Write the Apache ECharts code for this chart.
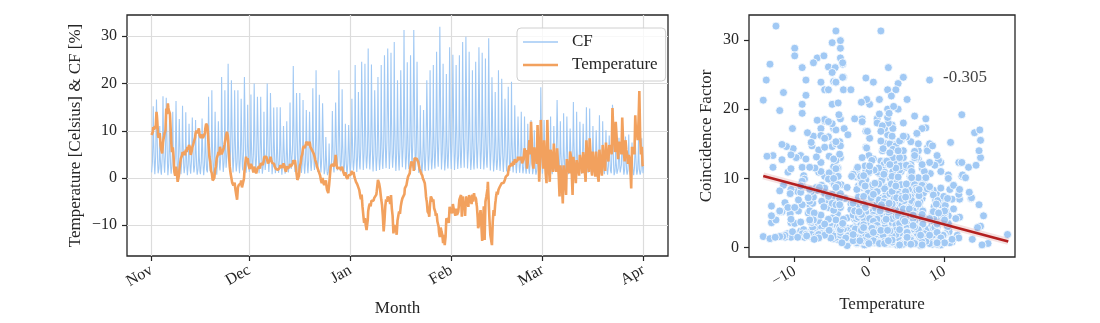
<!DOCTYPE html>
<html>
<head>
<meta charset="utf-8">
<script src="https://cdn.jsdelivr.net/npm/echarts@6.0.0/dist/echarts.min.js"></script>
<style>
  html, body { margin: 0; padding: 0; background: #ffffff; }
  #chart { width: 1100px; height: 323px; }
</style>
</head>
<body>
<div id="chart"></div>
<script>
// Three-hourly samples (00, 03, 06, 09, 12, 15, 18, 21 h), 1 Nov 00:00 through 1 Apr 00:00.
// Coincidence factor, percent. One day per row.
const cf = [
  // Nov
  1.2,1.0,3.3,7.3,15.2,8.4,5.2,2.3,
  0.8,0.7,4.6,10.3,16.6,11.6,7.0,3.0,
  1.0,0.7,2.0,4.2,11.0,5.0,3.1,1.3,
  0.7,0.7,4.3,9.5,17.3,10.7,5.2,2.4,
  1.1,1.0,4.8,10.5,17.0,11.9,7.1,3.1,
  0.6,0.4,2.9,6.2,13.0,7.2,4.4,2.0,
  0.9,0.6,2.5,5.3,14.0,6.3,3.9,1.7,
  1.3,1.3,4.1,9.0,16.3,10.1,4.9,2.3,
  0.5,0.4,3.5,7.8,12.5,8.8,5.3,2.3,
  0.8,0.6,3.4,7.3,15.3,8.4,5.2,2.3,
  1.0,0.7,2.5,5.3,13.9,6.3,3.9,1.7,
  0.6,0.6,2.9,6.3,11.5,7.1,3.5,1.6,
  0.9,0.8,3.6,7.9,12.8,9.0,5.4,2.3,
  1.2,1.0,2.7,5.9,12.3,6.8,4.2,1.8,
  0.7,0.4,1.9,4.0,10.5,4.7,2.9,1.3,
  0.8,0.8,3.2,6.9,12.6,7.8,3.8,1.8,
  0.6,0.5,2.8,6.2,10.0,7.0,4.2,1.8,
  1.4,1.2,3.8,8.3,17.2,9.5,5.8,2.6,
  1.5,1.2,3.3,7.1,18.6,8.4,5.2,2.2,
  0.9,0.9,3.5,7.7,14.0,8.7,4.2,2.0,
  0.7,0.6,3.4,7.4,12.0,8.4,5.0,2.2,
  1.6,1.4,4.7,10.3,21.4,11.8,7.3,3.2,
  1.3,1.0,3.3,7.1,18.6,8.4,5.2,2.2,
  1.8,1.8,6.1,13.3,24.2,15.0,7.3,3.4,
  1.5,1.4,5.8,12.8,20.7,14.5,8.7,3.7,
  1.2,1.0,4.1,8.9,18.6,10.2,6.3,2.8,
  1.4,1.1,3.3,7.1,18.6,8.4,5.2,2.2,
  1.0,1.0,4.2,9.2,16.8,10.4,5.0,2.4,
  1.6,1.5,6.0,13.3,21.4,15.0,9.0,3.9,
  1.1,0.9,3.4,7.4,15.5,8.5,5.3,2.3,
  // Dec
  1.3,1.0,3.2,6.7,17.7,8.0,5.0,2.1,
  1.5,1.5,5.0,11.0,20.0,12.4,6.0,2.8,
  1.2,1.1,4.8,10.7,17.2,12.0,7.2,3.1,
  1.0,0.8,3.8,8.3,17.2,9.5,5.8,2.6,
  0.9,0.6,2.5,5.3,14.0,6.3,3.9,1.7,
  1.4,1.4,5.0,11.0,20.0,12.4,6.0,2.8,
  1.3,1.2,5.0,11.2,18.0,12.6,7.6,3.2,
  0.8,0.6,3.3,7.2,14.9,8.2,5.1,2.2,
  1.0,0.7,2.7,5.7,15.0,6.8,4.2,1.8,
  1.1,1.1,3.8,8.3,15.0,9.3,4.5,2.1,
  0.7,0.6,3.1,6.8,11.0,7.7,4.6,2.0,
  0.9,0.7,2.6,5.8,12.0,6.6,4.1,1.8,
  1.2,0.9,2.9,6.1,16.0,7.2,4.5,1.9,
  1.7,1.7,5.9,13.0,23.7,14.7,7.1,3.3,
  1.3,1.2,5.0,11.2,18.0,12.6,7.6,3.2,
  1.4,1.2,4.0,8.6,18.0,9.9,6.1,2.7,
  1.1,0.8,3.0,6.3,16.5,7.4,4.6,2.0,
  0.9,0.9,3.6,7.9,14.4,8.9,4.3,2.0,
  1.0,0.9,3.9,8.7,14.0,9.8,5.9,2.5,
  1.5,1.3,4.2,9.1,19.0,10.5,6.5,2.9,
  1.7,1.4,4.1,8.7,22.8,10.3,6.4,2.7,
  1.3,1.3,4.4,9.7,17.6,10.9,5.3,2.5,
  1.2,1.1,4.4,9.8,15.8,11.1,6.6,2.8,
  0.8,0.6,1.9,4.2,8.7,4.8,3.0,1.3,
  0.6,0.3,1.3,2.8,7.3,3.3,2.0,0.9,
  1.0,1.0,3.6,7.8,14.2,8.8,4.3,2.0,
  1.2,1.1,4.5,9.9,16.0,11.2,6.7,2.9,
  1.6,1.4,5.0,10.9,22.8,12.5,7.8,3.4,
  1.4,1.1,3.4,7.1,18.8,8.5,5.3,2.3,
  0.9,0.9,2.9,6.3,11.5,7.1,3.5,1.6,
  0.8,0.7,3.1,6.9,11.2,7.8,4.7,2.0,
  // Jan
  1.0,0.8,3.7,8.1,16.8,9.2,5.7,2.5,
  1.6,1.3,4.3,9.1,23.9,10.8,6.7,2.9,
  1.3,1.3,4.6,10.0,18.2,11.3,5.5,2.5,
  1.8,1.7,6.9,15.3,24.6,17.2,10.3,4.4,
  1.7,1.5,5.3,11.6,24.2,13.3,8.2,3.6,
  2.0,1.7,4.9,10.4,27.4,12.3,7.7,3.3,
  1.8,1.8,6.0,13.2,24.0,14.9,7.2,3.4,
  1.4,1.3,5.2,11.5,18.6,13.0,7.8,3.3,
  1.5,1.3,4.7,10.3,21.4,11.8,7.3,3.2,
  1.7,1.4,4.3,9.1,23.9,10.8,6.7,2.9,
  1.9,1.9,6.5,14.3,26.0,16.1,7.8,3.6,
  2.1,2.0,7.7,17.0,27.4,19.2,11.5,4.9,
  1.9,1.7,5.8,12.7,26.5,14.6,9.0,4.0,
  2.2,1.9,5.2,10.9,28.8,13.0,8.1,3.5,
  1.5,1.5,5.2,11.4,20.7,12.8,6.2,2.9,
  1.6,1.5,6.4,14.1,22.8,16.0,9.6,4.1,
  2.3,2.1,6.9,15.0,31.3,17.2,10.6,4.7,
  1.8,1.5,4.4,9.3,24.5,11.0,6.9,2.9,
  1.9,1.9,6.5,14.3,26.0,16.1,7.8,3.6,
  2.2,2.1,8.8,19.4,31.3,21.9,13.1,5.6,
  1.7,1.5,5.4,11.8,24.6,13.5,8.4,3.7,
  1.1,0.8,2.8,5.9,15.4,6.9,4.3,1.8,
  1.0,1.0,3.6,7.9,14.4,8.9,4.3,2.0,
  1.5,1.4,5.8,12.8,20.7,14.5,8.7,3.7,
  1.6,1.4,5.0,10.9,22.8,12.5,7.8,3.4,
  1.8,1.5,4.3,9.1,23.9,10.8,6.7,2.9,
  2.0,2.0,6.7,14.7,26.7,16.6,8.0,3.7,
  2.4,2.3,9.0,19.8,32.0,22.4,13.4,5.8,
  1.8,1.6,5.3,11.6,24.2,13.3,8.2,3.6,
  1.6,1.3,4.0,8.4,22.0,9.9,6.2,2.6,
  2.0,2.0,6.9,15.2,27.7,17.2,8.3,3.9,
  // Feb
  1.9,1.8,7.3,16.2,26.1,18.3,11.0,4.7,
  1.7,1.5,5.3,11.5,23.9,13.1,8.1,3.6,
  1.9,1.6,4.7,9.9,26.0,11.7,7.3,3.1,
  2.1,2.1,7.2,15.8,28.8,17.9,8.6,4.0,
  2.2,2.1,8.4,18.5,29.9,20.9,12.6,5.4,
  2.0,1.8,5.9,12.8,26.7,14.7,9.1,4.0,
  1.7,1.4,4.1,8.7,22.8,10.3,6.4,2.7,
  1.8,1.8,6.2,13.5,24.6,15.3,7.4,3.4,
  2.0,1.9,7.8,17.2,27.7,19.4,11.6,5.0,
  1.9,1.7,5.8,12.7,26.5,14.6,9.0,4.0,
  1.8,1.5,4.6,9.6,25.3,11.4,7.1,3.0,
  2.2,2.2,7.4,16.3,29.6,18.4,8.9,4.1,
  1.6,1.5,6.0,13.2,21.3,14.9,8.9,3.8,
  1.4,1.2,4.0,8.7,18.2,10.0,6.2,2.7,
  1.7,1.4,4.1,8.7,22.8,10.3,6.4,2.7,
  1.5,1.5,5.3,11.6,21.0,13.0,6.3,2.9,
  1.3,1.2,4.7,10.4,16.8,11.8,7.1,3.0,
  1.4,1.2,4.2,9.3,19.3,10.6,6.6,2.9,
  1.5,1.2,3.7,7.8,20.4,9.2,5.7,2.4,
  1.2,1.2,3.9,8.5,15.4,9.5,4.6,2.2,
  1.0,0.9,3.6,8.1,13.0,9.1,5.5,2.3,
  1.1,0.9,3.1,6.7,14.0,7.7,4.8,2.1,
  1.0,0.7,2.3,4.9,13.0,5.9,3.6,1.6,
  0.9,0.9,2.9,6.3,11.5,7.1,3.5,1.6,
  0.9,0.8,3.4,7.6,12.3,8.6,5.2,2.2,
  0.8,0.6,2.2,4.8,10.1,5.6,3.4,1.5,
  0.7,0.4,1.6,3.4,9.0,4.1,2.5,1.1,
  1.4,1.4,4.8,10.6,19.2,11.9,5.8,2.7,
  // Mar
  0.9,0.8,3.4,7.6,12.3,8.6,5.2,2.2,
  1.0,0.8,2.7,5.9,12.3,6.8,4.2,1.8,
  1.0,0.7,2.3,4.9,13.0,5.9,3.6,1.6,
  0.8,0.8,2.8,6.1,11.0,6.8,3.3,1.5,
  1.2,1.1,4.6,10.2,16.5,11.6,6.9,3.0,
  0.9,0.7,2.6,5.8,12.0,6.6,4.1,1.8,
  1.0,0.7,2.5,5.2,13.7,6.2,3.8,1.6,
  1.0,1.0,3.3,7.2,13.0,8.1,3.9,1.8,
  0.8,0.7,2.9,6.5,10.5,7.4,4.4,1.9,
  1.2,1.0,3.5,7.7,16.1,8.9,5.5,2.4,
  1.1,0.8,2.5,5.3,14.0,6.3,3.9,1.7,
  0.9,0.9,3.0,6.5,11.9,7.4,3.6,1.7,
  0.9,0.8,3.2,7.1,11.5,8.1,4.8,2.1,
  1.1,0.9,3.3,7.2,15.0,8.3,5.1,2.3,
  1.1,0.8,2.6,5.6,14.7,6.6,4.1,1.8,
  0.8,0.8,2.8,6.1,11.0,6.8,3.3,1.5,
  0.8,0.7,2.8,6.3,10.1,7.1,4.2,1.8,
  1.0,0.8,2.9,6.4,13.3,7.3,4.5,2.0,
  0.9,0.6,2.2,4.6,12.0,5.4,3.4,1.4,
  0.8,0.8,2.5,5.6,10.1,6.3,3.0,1.4,
  0.7,0.6,2.5,5.6,9.0,6.3,3.8,1.6,
  1.2,1.0,3.4,7.4,15.5,14.0,5.3,2.3,
  0.6,0.3,1.4,2.9,7.7,3.5,2.2,0.9,
  0.7,0.7,2.1,4.7,8.5,5.3,2.6,1.2,
  0.8,0.7,2.8,6.3,10.1,7.1,4.2,1.8,
  0.7,0.5,1.9,4.2,8.8,4.8,3.0,1.3,
  0.7,0.4,1.7,3.5,9.2,4.1,2.6,1.1,
  0.6,0.6,1.9,4.1,7.5,4.7,2.3,1.1,
  0.6,0.5,2.2,5.0,8.0,5.6,3.4,1.4,
  0.7,0.5,1.8,4.0,8.4,4.6,1.9,1.2,
  0.7,0.4,1.5,3.2,8.4,3.8,2.4,1.0,
  // Apr 1
  2.5
];

// Air temperature, degrees Celsius, same timestamps.
const temperature = [
  // Nov
  9.1,8.9,8.8,9.8,10.8,10.7,10.2,10.6,
  11.0,10.7,10.5,12.3,14.0,13.2,12.0,10.4,
  9.0,8.5,8.2,8.9,9.5,8.4,7.0,6.4,
  5.9,5.5,5.2,6.3,7.5,8.1,8.5,9.0,
  9.5,9.7,10.0,12.4,14.7,14.2,13.5,14.8,
  15.8,15.0,14.4,14.6,14.8,13.6,12.0,10.1,
  8.0,6.6,5.5,6.0,6.5,5.6,4.5,2.8,
  1.3,0.9,0.5,1.5,2.4,1.8,1.0,0.1,
  -0.8,-0.7,-0.5,0.5,1.5,2.3,3.0,3.6,
  4.2,4.1,4.0,4.8,5.5,5.3,5.0,5.3,
  5.6,5.2,4.8,5.4,6.0,5.8,5.5,6.0,
  6.6,6.3,6.0,6.5,7.0,6.8,6.5,5.7,
  4.9,5.0,5.2,5.9,6.5,6.8,7.0,7.3,
  7.7,7.7,7.8,8.6,9.5,9.8,10.0,9.9,
  9.8,9.5,9.2,9.9,10.5,9.8,9.0,8.8,
  8.7,8.5,8.3,8.8,9.2,8.9,8.5,8.4,
  8.4,8.4,8.5,9.5,10.5,11.0,11.5,11.7,
  11.9,11.0,10.0,8.5,7.0,5.8,4.5,4.0,
  3.5,2.5,1.5,1.2,1.0,0.3,-0.5,-0.6,
  -0.8,-0.4,0.0,0.9,1.7,2.1,2.5,3.4,
  4.2,4.3,4.5,5.0,5.5,5.2,4.8,5.7,
  6.6,6.2,5.8,5.4,5.0,5.2,5.5,5.7,
  5.9,6.2,6.5,7.0,7.5,8.0,8.5,9.0,
  9.4,9.8,10.1,9.0,8.0,6.5,5.0,3.7,
  2.4,1.7,1.0,0.5,0.0,-0.5,-1.0,-1.0,
  -1.1,-1.6,-2.0,-1.5,-1.0,-1.8,-2.5,-3.0,
  -3.6,-4.1,-4.6,-3.3,-2.0,-1.7,-1.5,-1.3,
  -1.1,-1.5,-1.8,-1.1,-0.5,-1.2,-2.0,-1.9,
  -1.8,-1.6,-1.5,-0.1,1.3,2.2,3.0,3.8,
  4.5,4.0,3.5,3.9,4.2,3.5,2.8,2.6,
  // Dec
  2.4,1.9,1.5,2.3,3.0,2.8,2.5,2.2,
  2.0,1.6,1.2,1.8,2.4,2.1,1.8,1.6,
  1.5,1.0,0.6,1.3,2.0,1.9,1.7,2.1,
  2.5,2.2,2.0,2.6,3.1,3.3,3.5,3.2,
  3.0,2.8,2.7,3.4,4.0,4.5,4.9,4.9,
  4.9,4.7,4.5,4.2,3.8,3.4,3.1,3.3,
  3.5,3.3,3.2,3.9,4.5,4.2,3.8,3.5,
  3.2,3.0,2.8,3.2,3.5,3.0,2.5,2.4,
  2.4,2.0,1.7,2.0,2.2,2.0,1.7,1.8,
  2.0,1.8,1.6,2.2,2.7,2.9,3.0,2.7,
  2.5,2.2,2.0,2.6,3.1,2.9,2.6,2.2,
  1.8,1.5,1.3,1.9,2.5,2.3,2.0,2.1,
  2.2,1.9,1.7,2.4,3.0,2.7,2.4,2.6,
  2.8,2.6,2.4,3.1,3.8,3.5,3.1,3.5,
  3.8,3.2,2.5,1.8,1.0,0.3,-0.4,-0.4,
  -0.4,0.0,0.5,1.5,2.5,2.8,3.1,3.8,
  4.5,4.8,5.0,5.7,6.3,6.6,6.8,6.5,
  6.3,6.4,6.6,7.2,7.7,7.5,7.3,7.3,
  7.3,7.0,6.6,7.1,7.7,7.2,6.6,6.6,
  6.6,6.2,5.9,6.0,6.0,5.6,5.2,5.0,
  4.9,4.3,3.8,3.6,3.5,3.0,2.5,2.2,
  2.0,1.7,1.5,1.6,1.7,1.1,0.5,0.0,
  -0.5,-0.8,-1.1,-0.5,0.0,-0.5,-1.0,-1.3,
  -1.5,-1.7,-1.8,-1.1,-0.5,-1.2,-2.0,-2.5,
  -2.9,-3.0,-3.2,-2.3,-1.5,-0.5,0.5,1.5,
  2.4,2.5,2.7,2.9,3.1,2.8,2.5,2.5,
  2.5,2.6,2.7,3.8,4.9,4.0,3.0,2.5,
  2.0,1.8,1.7,2.0,2.4,2.3,2.2,2.1,
  2.0,1.7,1.5,2.0,2.4,2.0,1.5,1.2,
  1.0,0.7,0.5,0.8,1.2,0.8,0.3,0.1,
  0.0,-0.2,-0.4,0.1,0.6,0.6,0.5,0.7,
  // Jan
  1.0,0.7,0.5,1.0,1.5,1.2,0.8,1.0,
  1.3,0.8,0.3,0.4,0.5,-0.1,-0.8,-1.0,
  -1.1,-1.3,-1.5,-1.2,-1.0,-1.7,-2.5,-3.0,
  -3.6,-4.0,-4.5,-4.0,-3.5,-4.8,-6.0,-6.9,
  -7.8,-8.7,-9.5,-9.0,-8.5,-9.2,-10.0,-10.5,
  -11.0,-10.8,-10.6,-8.8,-7.0,-6.5,-6.0,-5.7,
  -5.4,-5.7,-6.0,-5.4,-4.8,-4.9,-5.0,-5.0,
  -5.0,-4.8,-4.5,-4.2,-3.9,-3.9,-4.0,-3.8,
  -3.5,-2.8,-2.0,-1.2,-0.4,-0.6,-0.8,-1.2,
  -1.5,-2.2,-3.0,-3.8,-4.5,-5.1,-5.7,-6.9,
  -8.0,-9.7,-11.3,-10.2,-9.0,-7.5,-6.0,-5.2,
  -4.5,-4.8,-5.0,-4.5,-3.9,-4.1,-4.3,-4.3,
  -4.3,-4.9,-5.5,-4.6,-3.6,-5.0,-6.4,-7.2,
  -8.0,-9.9,-11.7,-10.9,-10.0,-9.8,-9.6,-10.0,
  -10.5,-11.3,-12.0,-10.5,-9.0,-8.5,-8.0,-7.6,
  -7.1,-7.4,-7.6,-6.8,-6.0,-5.5,-5.0,-4.7,
  -4.3,-4.4,-4.5,-4.5,-4.5,-3.4,-2.2,-2.2,
  -2.2,-1.9,-1.5,-1.0,-0.5,-0.1,0.3,0.3,
  0.3,0.6,1.0,1.8,2.5,3.0,3.5,3.5,
  3.5,3.6,3.8,2.6,1.5,2.9,4.2,4.2,
  4.2,4.0,3.8,4.1,4.5,4.2,3.8,3.4,
  3.0,2.5,2.0,1.7,1.5,1.2,1.0,1.0,
  1.0,0.5,0.0,-0.2,-0.4,-0.6,-0.8,-1.1,
  -1.5,-2.7,-3.9,-4.5,-5.0,-6.0,-7.1,-7.1,
  -7.1,-7.6,-8.2,-6.8,-5.5,-4.7,-3.9,-3.9,
  -3.9,-4.5,-5.0,-4.7,-4.5,-5.4,-6.4,-6.4,
  -6.4,-7.2,-8.0,-7.7,-7.5,-8.3,-9.2,-9.2,
  -9.2,-10.3,-11.5,-12.0,-12.5,-11.5,-10.5,-10.9,
  -11.3,-11.6,-12.0,-12.9,-13.8,-12.9,-12.0,-13.1,
  -14.2,-13.3,-12.5,-10.5,-8.5,-8.7,-9.0,-8.8,
  -8.5,-9.0,-9.5,-7.8,-6.1,-6.5,-7.0,-6.8,
  // Feb
  -6.5,-7.0,-7.5,-6.5,-5.5,-6.0,-6.5,-6.8,
  -7.0,-7.5,-8.0,-7.3,-6.5,-7.1,-7.8,-7.8,
  -7.8,-7.2,-6.5,-5.5,-4.6,-4.8,-5.0,-4.3,
  -3.6,-5.9,-8.2,-6.0,-3.9,-5.0,-6.0,-5.5,
  -5.0,-6.5,-8.0,-6.0,-3.9,-4.2,-4.5,-4.8,
  -5.0,-5.6,-6.1,-4.8,-3.6,-3.9,-4.2,-4.5,
  -4.8,-5.2,-5.5,-4.5,-3.5,-4.2,-5.0,-4.1,
  -3.2,-3.9,-4.5,-4.0,-3.6,-4.5,-5.5,-6.0,
  -6.4,-8.5,-10.6,-10.3,-10.0,-9.0,-8.0,-7.4,
  -6.8,-8.4,-10.0,-11.7,-13.3,-11.1,-9.0,-7.5,
  -6.0,-9.6,-13.1,-9.0,-5.0,-4.5,-4.0,-4.0,
  -3.9,-2.3,-0.8,-2.9,-5.0,-7.0,-9.0,-10.5,
  -12.0,-12.6,-13.1,-13.7,-14.2,-11.7,-9.2,-8.0,
  -6.8,-7.4,-8.0,-6.7,-5.5,-4.8,-4.0,-3.5,
  -2.9,-3.2,-3.5,-3.0,-2.5,-2.4,-2.2,-1.9,
  -1.5,-1.8,-2.0,-1.6,-1.1,-1.0,-0.8,-0.8,
  -0.8,-1.0,-1.2,-0.8,-0.3,0.0,0.3,0.5,
  0.6,0.3,0.0,0.7,1.3,1.9,2.4,2.6,
  2.7,2.4,2.2,2.7,3.2,2.9,2.5,3.0,
  3.5,3.2,2.8,3.4,4.0,3.7,3.3,3.4,
  3.5,3.2,3.0,3.8,4.5,4.2,3.8,4.2,
  4.5,4.2,3.8,4.2,4.5,3.8,3.1,3.1,
  3.1,3.5,4.0,5.2,6.3,5.8,5.2,5.6,
  5.9,4.0,2.0,2.8,3.5,4.8,6.0,7.0,
  8.0,6.5,5.0,8.5,11.9,9.5,7.0,5.0,
  3.0,2.5,2.0,4.2,6.5,5.5,4.5,4.5,
  4.5,3.7,3.0,7.1,11.2,8.6,6.0,2.6,
  -0.8,-1.0,-1.1,5.6,12.3,8.7,5.0,5.7,
  // Mar
  6.3,4.1,2.0,5.0,8.0,6.2,4.5,2.7,
  1.0,0.0,-1.1,5.6,12.3,9.1,6.0,4.0,
  2.0,0.6,-0.8,2.6,6.0,5.5,4.9,3.9,
  3.0,2.1,1.3,4.3,7.3,5.6,4.0,3.2,
  2.5,1.9,1.3,3.8,6.3,4.9,3.5,2.0,
  0.5,-1.7,-3.9,-0.6,2.7,1.9,1.0,-0.5,
  -2.0,-3.7,-5.4,-1.4,2.7,1.6,0.5,-0.2,
  -0.8,-2.2,-3.6,0.2,4.0,3.0,2.0,2.8,
  3.5,2.3,1.0,3.3,5.6,5.1,4.5,2.8,
  1.0,-1.3,-3.6,0.5,4.5,3.5,2.5,2.0,
  1.5,0.2,-1.1,1.4,3.8,2.9,2.0,2.0,
  2.0,1.3,0.5,2.7,4.9,4.2,3.5,3.2,
  3.0,2.0,1.0,3.3,5.5,4.8,4.0,2.8,
  1.5,0.4,-0.8,3.6,8.0,6.3,4.5,3.8,
  3.0,2.2,1.3,4.9,8.4,6.7,5.0,3.8,
  2.5,1.5,0.5,3.1,5.6,4.6,3.5,2.8,
  2.0,1.2,0.3,3.0,5.6,4.3,3.0,1.8,
  0.5,-0.2,-0.8,2.6,6.0,4.8,3.5,2.8,
  2.0,1.3,0.5,3.8,7.0,5.8,4.5,3.8,
  3.0,2.3,1.5,4.5,7.5,6.3,5.0,5.0,
  5.0,4.3,3.5,5.3,7.0,6.5,6.0,6.3,
  6.5,5.8,5.0,9.9,14.8,14.6,10.0,9.0,
  8.0,6.8,5.5,8.7,11.9,10.5,9.0,7.5,
  6.0,5.0,4.0,5.9,7.7,7.1,6.5,6.8,
  7.0,6.0,5.0,8.9,12.8,10.4,8.0,6.8,
  5.5,4.5,3.5,5.8,8.0,7.0,6.0,5.5,
  5.0,4.0,3.0,4.0,4.9,4.5,4.0,3.0,
  2.0,-0.1,-2.2,2.2,6.6,5.8,5.0,5.5,
  6.0,5.5,5.0,9.2,13.3,11.2,9.0,9.5,
  10.0,9.0,8.0,10.0,12.0,15.2,18.4,13.7,
  9.0,7.0,5.0,5.8,6.6,4.7,2.7,2.5,
  // Apr 1
  2.4
];

// Month ticks, in days since 1 Nov.
const monthTickDays = [0, 30, 61, 92, 120, 151];
const monthNames = ['Nov', 'Dec', 'Jan', 'Feb', 'Mar', 'Apr'];
const seriesYTicks = [-10, 0, 10, 20, 30];
const scatterXTicks = [-10, 0, 10];
const scatterYTicks = [0, 10, 20, 30];

// Least-squares fit of CF on temperature, end points.
const fitX = [-14.2, 18.5];
const fitY = [10.35, 0.9];
const corrLabel = '-0.305';

const FONT = 'Liberation Serif';
const INK = '#262626';
const BLUE = '#a1c9f4';
const ORANGE = '#f2a15e';
const RED = '#b41f1f';
const minusFmt = v => (v < 0 ? '\u2212' + Math.abs(v) : String(v));

const stepDays = 0.125;
const cfLine = cf.map((v, i) => [i * stepDays, v]);
const tempLine = temperature.map((v, i) => [i * stepDays, v]);
const cfVsTemp = temperature.map((t, i) => [t, cf[i]]);
const fitLine = fitX.map((x, i) => [x, fitY[i]]);

const tickStyle = { show: true, inside: false, length: 5, lineStyle: { color: INK, width: 1.2 } };
const labelBase = { fontFamily: FONT, fontSize: 16, color: INK };
const nameStyle = { fontFamily: FONT, fontSize: 17, color: INK };
const noLine = { show: false, onZero: false };

const chart = echarts.init(document.getElementById('chart'), null, { renderer: 'canvas' });
chart.setOption({
  animation: false,
  backgroundColor: '#ffffff',
  grid: [
    { left: 127, top: 15, width: 541, height: 241, show: true, borderColor: INK, borderWidth: 1.3, backgroundColor: 'transparent' },
    { left: 749, top: 15, width: 266, height: 242, show: true, borderColor: INK, borderWidth: 1.3, backgroundColor: 'transparent' }
  ],
  legend: {
    left: 517, top: 28, orient: 'vertical',
    data: [
      { name: 'CF', icon: 'path://M0,0H35V1.3H0Z' },
      { name: 'Temperature', icon: 'path://M0,0H35V2.7H0Z' }
    ],
    itemWidth: 35, itemHeight: 14, itemGap: 5,
    padding: [5, 8, 7, 6],
    backgroundColor: 'rgba(255,255,255,0.8)',
    borderColor: '#d0d0d0', borderWidth: 1, borderRadius: 4,
    textStyle: { fontFamily: FONT, fontSize: 17, color: INK, lineHeight: 18, padding: [0, 0, 0, 9] }
  },
  xAxis: [
    {
      gridIndex: 0, type: 'value', min: -7.55, max: 158.55,
      name: 'Month', nameLocation: 'middle', nameGap: 44, nameTextStyle: nameStyle,
      axisLine: noLine,
      axisTick: Object.assign({ customValues: monthTickDays }, tickStyle),
      axisLabel: Object.assign({
        customValues: monthTickDays, rotate: 30, margin: 13,
        formatter: v => monthNames[monthTickDays.indexOf(Math.round(v))]
      }, labelBase),
      splitLine: { show: true, lineStyle: { color: '#dcdcdc', width: 1.2 } }
    },
    {
      gridIndex: 1, type: 'value', min: -16.1, max: 19.4,
      name: 'Temperature', nameLocation: 'middle', nameGap: 39, nameTextStyle: nameStyle,
      axisLine: noLine,
      axisTick: Object.assign({ customValues: scatterXTicks }, tickStyle),
      axisLabel: Object.assign({ customValues: scatterXTicks, rotate: 30, margin: 13, formatter: minusFmt }, labelBase),
      splitLine: { show: false }
    }
  ],
  yAxis: [
    {
      gridIndex: 0, type: 'value', min: -16.5, max: 34.5,
      name: 'Temperature [Celsius] & CF [%]', nameLocation: 'middle', nameGap: 43, nameTextStyle: nameStyle,
      axisLine: noLine,
      axisTick: Object.assign({ customValues: seriesYTicks }, tickStyle),
      axisLabel: Object.assign({ customValues: seriesYTicks, margin: 10, formatter: minusFmt }, labelBase),
      splitLine: { show: true, lineStyle: { color: '#dcdcdc', width: 1.2 } }
    },
    {
      gridIndex: 1, type: 'value', min: -1.35, max: 33.6,
      name: 'Coincidence Factor', nameLocation: 'middle', nameGap: 34, nameTextStyle: nameStyle,
      axisLine: noLine,
      axisTick: Object.assign({ customValues: scatterYTicks }, tickStyle),
      axisLabel: Object.assign({ customValues: scatterYTicks, margin: 10, formatter: minusFmt }, labelBase),
      splitLine: { show: false }
    }
  ],
  series: [
    {
      name: 'CF', type: 'line', xAxisIndex: 0, yAxisIndex: 0, data: cfLine,
      symbol: 'none', silent: true, z: 2,
      lineStyle: { color: BLUE, width: 1.1 }, itemStyle: { color: BLUE }
    },
    {
      name: 'Temperature', type: 'line', xAxisIndex: 0, yAxisIndex: 0, data: tempLine,
      symbol: 'none', silent: true, z: 3,
      lineStyle: { color: ORANGE, width: 2.6 }, itemStyle: { color: ORANGE }
    },
    {
      name: 'pairs', type: 'scatter', xAxisIndex: 1, yAxisIndex: 1, data: cfVsTemp,
      symbol: 'circle', symbolSize: 8, silent: true, z: 2,
      itemStyle: { color: BLUE, borderColor: '#ffffff', borderWidth: 0.8, opacity: 1 }
    },
    {
      name: 'fit band', type: 'line', xAxisIndex: 1, yAxisIndex: 1, data: fitLine,
      symbol: 'none', silent: true, z: 3,
      lineStyle: { color: 'rgba(180,31,31,0.13)', width: 7 }
    },
    {
      name: 'fit', type: 'line', xAxisIndex: 1, yAxisIndex: 1, data: fitLine,
      symbol: 'none', silent: true, z: 4,
      lineStyle: { color: RED, width: 2.6 }
    },
    {
      name: 'r', type: 'scatter', xAxisIndex: 1, yAxisIndex: 1, data: [[9.8, 24.5]],
      symbolSize: 0, silent: true, z: 5,
      label: {
        show: true, position: 'right', distance: 0, formatter: corrLabel,
        fontFamily: FONT, fontSize: 17, color: '#111111'
      }
    }
  ]
});
</script>
</body>
</html>
